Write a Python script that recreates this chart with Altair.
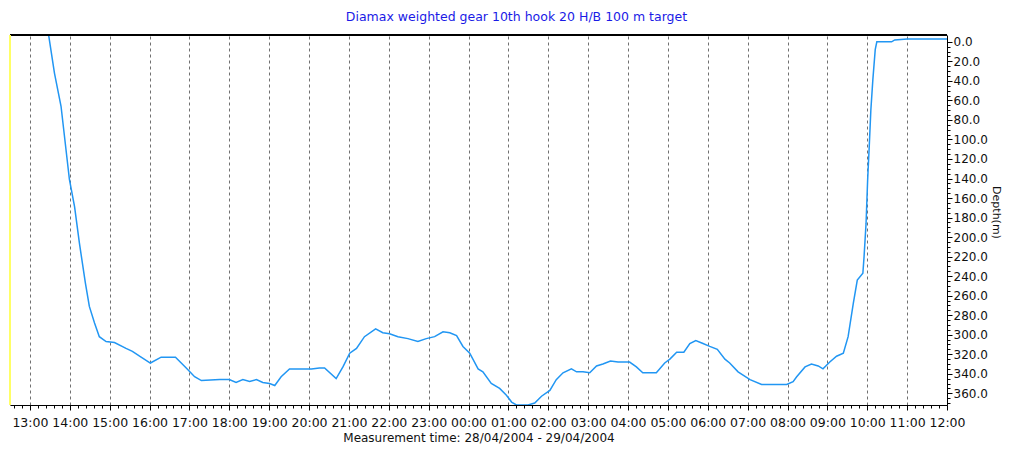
import altair as alt
import pandas as pd

# hours since 28/04/2004 00:00
hours = [13.45, 13.615, 13.78, 13.99, 14.12, 14.24, 14.39, 14.49, 14.62, 14.74, 14.91, 15.12,
         15.41, 15.57, 15.75, 16.02, 16.29, 16.65, 16.92, 17.13, 17.30, 17.76, 18.0, 18.17,
         18.34, 18.51, 18.68, 18.84, 19.01, 19.14, 19.30, 19.51, 19.76, 20.06, 20.26, 20.39,
         20.68, 20.85, 21.02, 21.19, 21.39, 21.67, 21.85, 22.02, 22.23, 22.48, 22.73, 22.94,
         23.15, 23.36, 23.53, 23.70, 23.86, 24.03, 24.24, 24.36, 24.57, 24.78, 24.95, 25.08,
         25.2, 25.33, 25.49, 25.66, 25.83, 26.04, 26.20, 26.37, 26.58, 26.71, 26.87, 27.04,
         27.21, 27.37, 27.56, 27.75, 28.04, 28.21, 28.37, 28.71, 28.92, 29.05, 29.22, 29.40,
         29.55, 29.70, 29.88, 30.05, 30.24, 30.43, 30.55, 30.76, 31.06, 31.35, 31.64, 31.98,
         32.14, 32.23, 32.44, 32.60, 32.77, 32.89, 33.06, 33.23, 33.40, 33.52, 33.65, 33.75,
         33.89, 33.92, 33.97, 34.01, 34.05, 34.09, 34.14, 34.20, 34.24, 34.61, 34.69, 35.0, 36.0]
depth = [-12, 32, 66, 141, 169, 206, 247, 271, 288, 302, 307, 308,
         314, 317, 322, 329, 323, 323, 334, 343, 347, 346, 346, 349,
         346, 348, 346, 349, 350, 352, 343, 335, 335, 335, 334, 334,
         345, 333, 319, 314, 302, 294, 298, 299, 302, 304, 307, 304,
         302, 297, 298, 301, 312, 319, 335, 338, 350, 355, 362, 369,
         372, 372, 372, 370, 363, 357, 346, 339, 335, 338, 338, 339,
         332, 330, 327, 328, 328, 333, 339, 339, 329, 325, 318, 318,
         309, 306, 309, 312, 315, 325, 329, 338, 346, 351, 351, 351,
         348, 343, 333, 330, 332, 335, 328, 322, 319, 302, 268, 244,
         237, 220, 186, 141, 107, 70, 39, 8, 0, 0, -2, -3, -3]

x_ticks = [round(12.6 + 0.2 * i, 1) for i in range(118)]
y_ticks = list(range(0, 371, 5))

title_text = "Diamax weighted gear 10th hook 20 H/B 100 m target"
x_title = "Measurement time: 28/04/2004 - 29/04/2004"
y_title = "Depth(m)"

df = pd.DataFrame({"h": hours, "d": depth})

W, H = 937, 370
FONT = "DejaVu Sans"
is_hour = "abs(datum.value - round(datum.value)) < 0.01"

x_axis = alt.Axis(
    values=x_ticks,
    labelExpr=f"{is_hour} ? ((round(datum.value) % 24 < 10 ? '0' : '') + (round(datum.value) % 24) + ':00') : ''",
    labelOverlap=False, labelFlush=False,
    tickSize=alt.condition(is_hour, alt.value(5), alt.value(3)),
    tickColor="#000", domainColor="#000",
    grid=True, gridColor="#707070", gridDash=[3, 3],
    gridOpacity=alt.condition(is_hour, alt.value(1), alt.value(0)),
    labelFont=FONT, labelFontSize=12.5, labelColor="#111", labelPadding=6,
    title=x_title, titleFont=FONT, titleFontSize=12, titleFontWeight="normal",
    titleColor="#111", titlePadding=4,
)

y_axis = alt.Axis(
    orient="right",
    values=y_ticks,
    labelExpr="datum.value % 20 == 0 ? format(datum.value, '.1f') : ''",
    labelOverlap=False, labelFlush=False,
    tickSize=alt.condition("datum.value % 20 == 0", alt.value(5), alt.value(3)),
    tickColor="#000", domainColor="#000", grid=False,
    labelFont=FONT, labelFontSize=12, labelColor="#111", labelPadding=1,
    title=y_title, titleFont=FONT, titleFontSize=11, titleFontWeight="normal",
    titleColor="#111", titlePadding=3, titleY=177,
)

line = alt.Chart(df).mark_line(color="#2196f3", strokeWidth=1.5, clip=True).encode(
    x=alt.X("h:Q", scale=alt.Scale(domain=[12.5, 36], nice=False, zero=False), axis=x_axis),
    y=alt.Y("d:Q", scale=alt.Scale(domain=[-7, 372], reverse=True, nice=False, zero=False), axis=y_axis),
)

top_rule = alt.Chart(df).mark_rule(color="#000", strokeWidth=1.2).encode(
    x=alt.value(0), x2=alt.value(W), y=alt.value(0)
)
left_rule = alt.Chart(df).mark_rule(color="#ffff66", strokeWidth=1.5).encode(
    x=alt.value(0), y=alt.value(0), y2=alt.value(H)
)

chart = alt.layer(line, top_rule, left_rule).properties(
    width=W, height=H,
    autosize=alt.AutoSizeParams(type="none"),
    padding={"left": 2, "top": 27, "right": 57, "bottom": 43},
    title=alt.TitleParams(title_text, font=FONT, fontSize=12.5, fontWeight="normal",
                          color="#1a1ae6", anchor="middle", dx=38, offset=11),
).configure_view(stroke=None).configure(background="white")

chart.save("out.html", embed_options={"renderer": "svg", "actions": False})
